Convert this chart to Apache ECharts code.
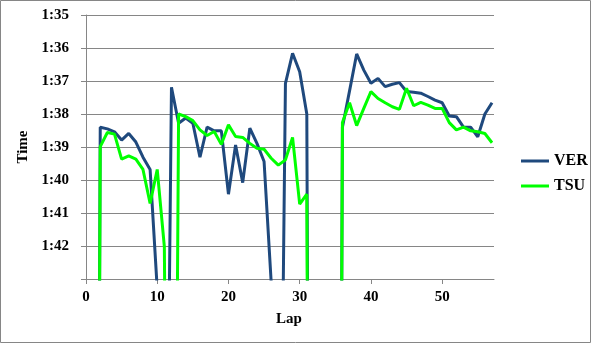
<!DOCTYPE html>
<html>
<head>
<meta charset="utf-8">
<script src="https://cdn.jsdelivr.net/npm/echarts@6/dist/echarts.min.js"></script>
<style>
html,body{margin:0;padding:0;background:#fff;}
#c{width:595px;height:345px;}
</style>
</head>
<body>
<div id="c"></div>
<script>
// Lap numbers
const laps = [1,2,3,4,5,6,7,8,9,10,11,12,13,14,15,16,17,18,19,20,21,22,23,24,25,26,27,28,29,30,31,32,33,34,35,36,37,38,39,40,41,42,43,44,45,46,47,48,49,50,51,52,53,54,55,56,57];
// Lap times in seconds (values beyond 1:43 run off the bottom of the chart)
const ver = [150,98.40,98.45,98.54,98.79,98.59,98.85,99.31,99.68,103.3,118,97.19,98.28,98.12,98.28,99.31,98.40,98.51,98.51,100.43,98.94,100.08,98.43,98.89,99.44,103.1,117,97.07,96.16,96.72,98.0,150,150,150,150,98.4,97.3,96.18,96.67,97.07,96.92,97.17,97.10,97.05,97.32,97.34,97.37,97.47,97.58,97.66,98.06,98.08,98.40,98.40,98.69,98.0,97.66];
const tsu = [150,98.99,98.56,98.61,99.37,99.27,99.37,99.68,100.71,99.68,102.02,130,98.0,98.08,98.2,98.48,98.65,98.53,98.92,98.33,98.68,98.71,98.89,99.04,99.07,99.34,99.55,99.39,98.71,100.73,100.43,150,150,150,150,98.26,97.66,98.35,97.83,97.32,97.53,97.66,97.78,97.86,97.22,97.75,97.65,97.73,97.83,97.83,98.26,98.48,98.40,98.51,98.54,98.59,98.87];
// Axis ticks
const xTicks = [0,10,20,30,40,50];
const yTicks = [95,96,97,98,99,100,101,102];
const seriesNames = ['VER','TSU'];

function fmtTime(v){
  const m = Math.floor(v/60);
  const s = Math.round(v - m*60);
  return m + ':' + (s<10?'0':'') + s;
}
const font = 'Liberation Serif';
const gray = '#868686';

const chart = echarts.init(document.getElementById('c'), null, {renderer:'canvas'});
chart.setOption({
  animation:false,
  backgroundColor:'#fff',
  graphic:[{type:'rect',shape:{x:0.5,y:0.5,width:590,height:342},style:{fill:'none',stroke:gray,lineWidth:1},silent:true}],
  grid:{left:84,right:101,top:15,bottom:66},
  legend:{
    orient:'vertical',left:516,top:148,itemWidth:28,itemHeight:3,itemGap:9,icon:'rect',
    textStyle:{fontFamily:font,fontWeight:'bold',fontSize:16,color:'#000',lineHeight:16},
    data:seriesNames
  },
  xAxis:{
    type:'value',min:-0.28,max:57.28,
    name:'Lap',nameLocation:'middle',nameGap:33,
    nameTextStyle:{fontFamily:font,fontWeight:'bold',fontSize:15,color:'#000'},
    axisLine:{show:true,onZero:false,lineStyle:{color:gray,width:1}},
    axisTick:{show:true,length:5,lineStyle:{color:gray},customValues:xTicks},
    axisLabel:{fontFamily:font,fontWeight:'bold',fontSize:15,color:'#000',margin:11,customValues:xTicks},
    splitLine:{show:false}
  },
  yAxis:{
    type:'value',min:95,max:103,interval:1,inverse:true,
    name:'Time',nameLocation:'middle',nameGap:44,
    nameTextStyle:{fontFamily:font,fontWeight:'bold',fontSize:15,color:'#000'},
    axisLine:{show:true,lineStyle:{color:gray,width:1}},
    axisTick:{show:true,length:5,lineStyle:{color:gray}},
    axisLabel:{fontFamily:font,fontWeight:'bold',fontSize:15,color:'#000',margin:15,
      customValues:yTicks,formatter:fmtTime},
    splitLine:{show:true,lineStyle:{color:gray,width:1}}
  },
  series:[
    {name:seriesNames[0],type:'line',data:laps.map((l,i)=>[l,ver[i]]),showSymbol:false,symbol:'none',clip:true,
     lineStyle:{color:'#1F497D',width:3},itemStyle:{color:'#1F497D'}},
    {name:seriesNames[1],type:'line',data:laps.map((l,i)=>[l,tsu[i]]),showSymbol:false,symbol:'none',clip:true,
     lineStyle:{color:'#00FF00',width:3},itemStyle:{color:'#00FF00'}}
  ]
});
</script>
</body>
</html>
